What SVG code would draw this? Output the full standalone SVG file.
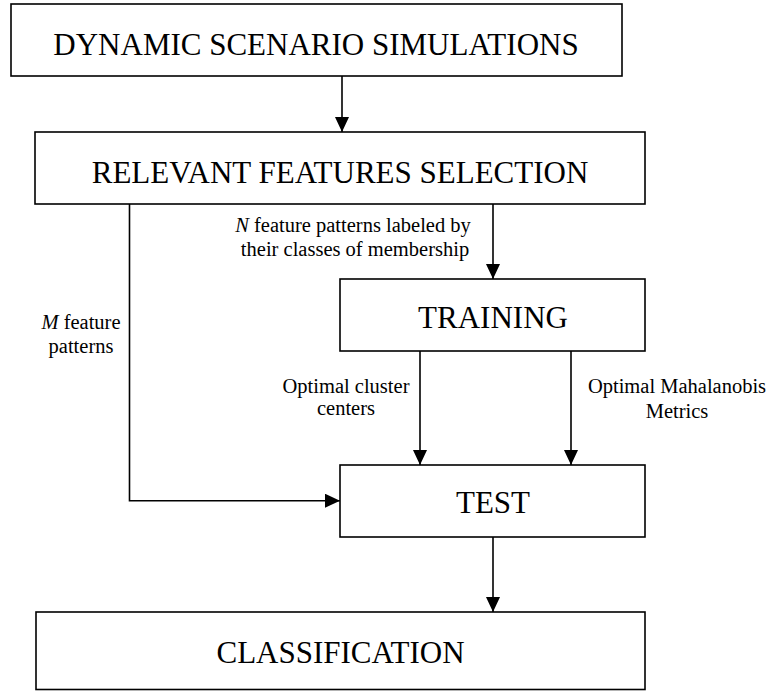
<svg xmlns="http://www.w3.org/2000/svg" width="771" height="691" viewBox="0 0 771 691">
<style>
.box{fill:#fff;stroke:#000;stroke-width:1.6}
.big{font-family:"Liberation Serif","Times New Roman",serif;font-size:31px;fill:#000;text-anchor:middle}
.lbl{font-family:"Liberation Serif","Times New Roman",serif;font-size:20.5px;fill:#000;text-anchor:middle}
.con{fill:none;stroke:#000;stroke-width:1.6}
</style>
<defs>
<marker id="arr" markerUnits="userSpaceOnUse" markerWidth="15" markerHeight="14" refX="15" refY="7" orient="auto">
<path d="M0,0 L15,7 L0,14 z" fill="#000"/>
</marker>
</defs>
<g id="connectors">
<line class="con" x1="342" y1="76" x2="342" y2="132" marker-end="url(#arr)"/>
<line class="con" x1="493" y1="204" x2="493" y2="279" marker-end="url(#arr)"/>
<polyline class="con" points="129.5,204 129.5,500.7 340,500.7" marker-end="url(#arr)"/>
<line class="con" x1="420" y1="351" x2="420" y2="465" marker-end="url(#arr)"/>
<line class="con" x1="571" y1="351" x2="571" y2="465" marker-end="url(#arr)"/>
<line class="con" x1="493" y1="537" x2="493" y2="612" marker-end="url(#arr)"/>
<text class="lbl" x="353" y="231.5"><tspan font-style="italic">N</tspan> feature patterns labeled by</text>
<text class="lbl" x="355" y="255.5">their classes of membership</text>
<text class="lbl" x="81" y="329"><tspan font-style="italic">M</tspan> feature</text>
<text class="lbl" x="81" y="353">patterns</text>
<text class="lbl" x="346" y="392.7">Optimal cluster</text>
<text class="lbl" x="346" y="415">centers</text>
<text class="lbl" x="677" y="393.3">Optimal Mahalanobis</text>
<text class="lbl" x="677" y="418">Metrics</text>
</g>
<g id="dynamic">
<rect class="box" x="11" y="4" width="611" height="72"/>
<text class="big" x="316" y="55">DYNAMIC SCENARIO SIMULATIONS</text>
</g>
<g id="relevant">
<rect class="box" x="35" y="132" width="610" height="72"/>
<text class="big" x="340" y="183">RELEVANT FEATURES SELECTION</text>
</g>
<g id="training">
<rect class="box" x="340" y="279" width="305" height="72"/>
<text class="big" x="493" y="328.3">TRAINING</text>
</g>
<g id="test">
<rect class="box" x="340" y="465" width="305" height="72"/>
<text class="big" x="493" y="512.7">TEST</text>
</g>
<g id="classification">
<rect class="box" x="36" y="612" width="609" height="77.5"/>
<text class="big" x="340.5" y="662.7">CLASSIFICATION</text>
</g>
</svg>
